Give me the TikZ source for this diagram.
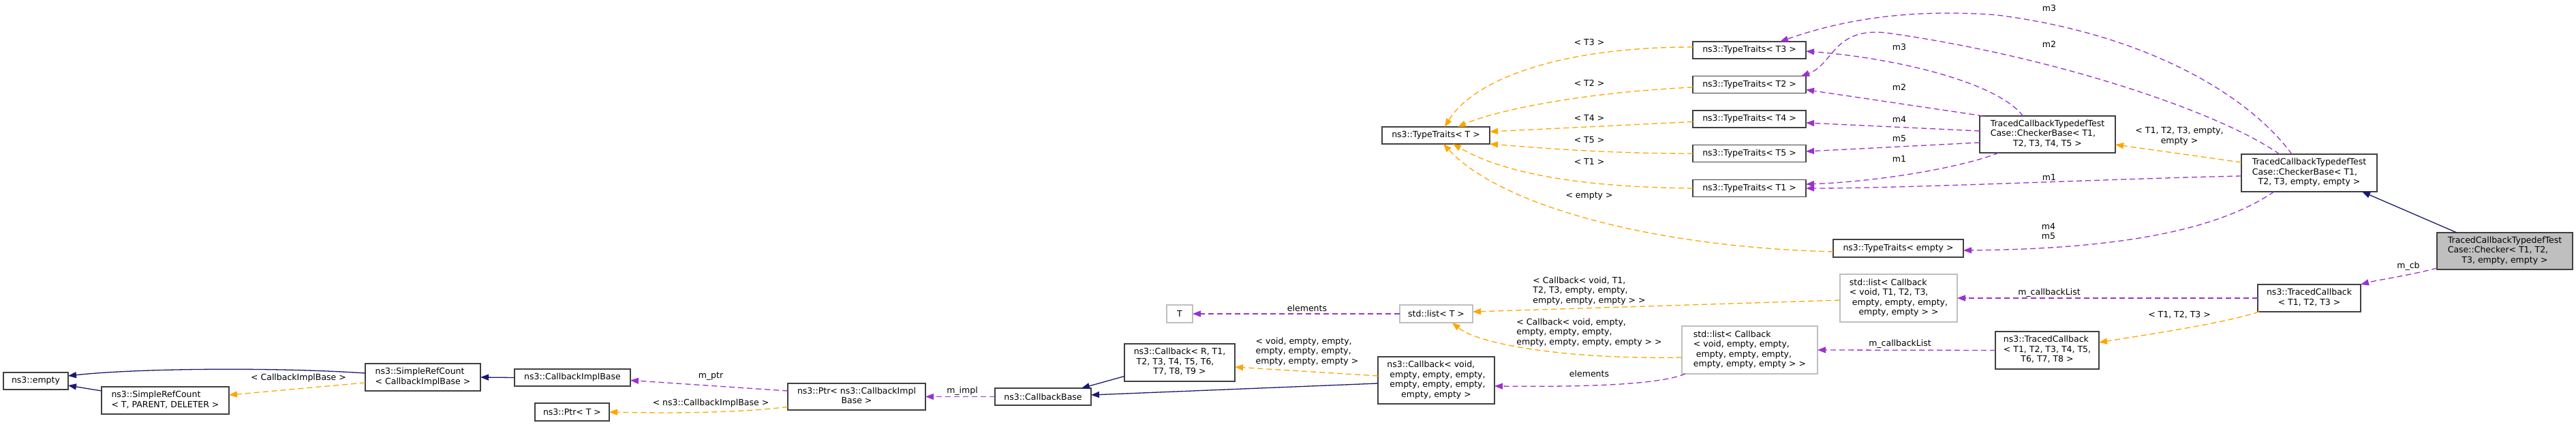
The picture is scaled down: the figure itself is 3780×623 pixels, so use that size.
\documentclass[tikz,border=0pt]{standalone}
\usepackage{fontspec}
\setmainfont{DejaVu Sans}
\usetikzlibrary{arrows.meta}
\definecolor{inhc}{HTML}{191970}
\definecolor{usec}{HTML}{9A32CD}
\definecolor{tplc}{HTML}{FFA500}
\definecolor{boxc}{HTML}{404040}
\definecolor{undoc}{HTML}{BFBFBF}
\newcommand{\mlines}[1]{\begin{tabular}{@{}l@{}}#1\end{tabular}}
\newcommand{\lastc}[1]{\multicolumn{1}{@{}c@{}}{#1}}
\tikzset{
  every node/.style={font=\fontsize{12.5}{14.5}\selectfont, inner sep=0pt, outer sep=0pt},
  cls/.style 2 args={draw=boxc, line width=1.6pt, fill=white, rectangle, minimum width=#1pt, minimum height=#2pt},
  und/.style 2 args={draw=undoc, line width=1.6pt, fill=white, rectangle, minimum width=#1pt, minimum height=#2pt},
  lbl/.style={},
  tipa/.tip={Triangle[length=12pt,width=9pt]},
  inh/.style={draw=inhc, line width=1.3pt, -tipa},
  use/.style={draw=usec, line width=1.3pt, dash pattern=on 8pt off 5pt, -tipa},
  tpl/.style={draw=tplc, line width=1.3pt, dash pattern=on 8pt off 5pt, -tipa},
}
\begin{document}
\begin{tikzpicture}[x=1pt,y=-1pt]
\useasboundingbox (0,0) rectangle (3780,623);
% nodes
\node[cls={95}{25}] (empty) at (52.5,558.5) {ns3::empty};
\node[cls={187}{40}] (srcTPD) at (242.5,587) {\mlines{ns3::SimpleRefCount\\\lastc{< T, PARENT, DELETER >}}};
\node[cls={169}{40}] (srcCIB) at (620.5,553) {\mlines{ns3::SimpleRefCount\\\lastc{< CallbackImplBase >}}};
\node[cls={170}{25}] (cib) at (840,553.5) {ns3::CallbackImplBase};
\node[cls={109}{26}] (ptrT) at (839.5,604) {ns3::Ptr< T >};
\node[cls={202}{39}] (ptrCIB) at (1257,581.5) {\mlines{ns3::Ptr< ns3::CallbackImpl\\\lastc{Base >}}};
\node[cls={141}{25}] (cbBase) at (1530.5,581.5) {ns3::CallbackBase};
\node[cls={162}{55}] (cbR) at (1731,531.5) {\mlines{ns3::Callback< R, T1,\\\ T2, T3, T4, T5, T6,\\\lastc{T7, T8, T9 >}}};
\node[und={38}{26}] (Tn) at (1731,460) {T};
\node[und={107}{26}] (listT) at (2107.5,460) {std::list< T >};
\node[cls={171}{69}] (cbVoid) at (2107.5,557.5) {\mlines{ns3::Callback< void,\\\ empty, empty, empty,\\\ empty, empty, empty,\\\lastc{empty, empty >}}};
\node[cls={158}{25}] (ttT) at (2107,198.5) {ns3::TypeTraits< T >};
\node[cls={166}{25}] (tt3) at (2567,73.5) {ns3::TypeTraits< T3 >};
\node[cls={166}{25}] (tt2) at (2567,124) {ns3::TypeTraits< T2 >};
\node[cls={166}{25}] (tt4) at (2567,174.5) {ns3::TypeTraits< T4 >};
\node[cls={166}{25}] (tt5) at (2567,225) {ns3::TypeTraits< T5 >};
\node[cls={166}{25}] (tt1) at (2567,276) {ns3::TypeTraits< T1 >};
\node[cls={191}{26}] (ttE) at (2785.5,364) {ns3::TypeTraits< empty >};
\node[und={199}{70}] (listV) at (2567.5,513) {\mlines{std::list< Callback\\< void, empty, empty,\\\ empty, empty, empty,\\\lastc{empty, empty, empty > >}}};
\node[und={172}{70}] (listT123) at (2786,437) {\mlines{std::list< Callback\\< void, T1, T2, T3,\\\ empty, empty, empty,\\\lastc{empty, empty > >}}};
\node[cls={199}{54}] (cbT5) at (3004.5,197) {\mlines{TracedCallbackTypedefTest\\Case::CheckerBase< T1,\\\lastc{T2, T3, T4, T5 >}}};
\node[cls={152}{55}] (tcb8) at (3004,513.5) {\mlines{ns3::TracedCallback\\< T1, T2, T3, T4, T5,\\\lastc{T6, T7, T8 >}}};
\node[cls={199}{55}] (cbE) at (3388.5,253.5) {\mlines{TracedCallbackTypedefTest\\Case::CheckerBase< T1,\\\lastc{T2, T3, empty, empty >}}};
\node[cls={151}{40}] (tcb3) at (3388.5,437) {\mlines{ns3::TracedCallback\\\lastc{< T1, T2, T3 >}}};
\node[cls={199}{54}, fill=undoc] (checker) at (3675.5,368) {\mlines{TracedCallbackTypedefTest\\Case::Checker< T1, T2,\\\lastc{T3, empty, empty >}}};
% edges
\draw[inh] ([yshift=6pt]srcCIB.west) .. controls (400,538) and (200,540) .. ([yshift=7.5pt]empty.east);
\draw[inh] ([yshift=14pt]srcTPD.west) -- ([yshift=-6.5pt]empty.east);
\draw[inh] (cib.west) -- (srcCIB.east);
\draw[tpl] ([yshift=-8pt]srcCIB.west) -- ([yshift=8pt]srcTPD.east);
\draw[use] ([yshift=8.5pt]ptrCIB.west) -- ([yshift=-4pt]cib.east);
\draw[tpl] ([yshift=-15pt]ptrCIB.west) .. controls (1080,605) and (1000,606) .. (ptrT.east);
\draw[use] (cbBase.west) -- (ptrCIB.east);
\draw[inh] ([yshift=-20pt]cbR.west) -- ([xshift=-14pt]cbBase.north east);
\draw[inh] ([yshift=-4.5pt]cbVoid.west) -- ([yshift=2.5pt]cbBase.east);
\draw[tpl] ([yshift=6.5pt]cbVoid.west) -- ([yshift=-6.5pt]cbR.east);
\draw[use] (listT.west) -- (Tn.east);
\draw[tpl] ([yshift=-3pt]listT123.west) -- ([yshift=3pt]listT.east);
\draw[tpl] ([yshift=-11pt]listV.west) .. controls (2300,527) and (2170,505) .. ([xshift=23.5pt]listT.south);
\draw[use] ([xshift=5pt]listV.south west) .. controls (2430,566) and (2300,567) .. ([yshift=-8.5pt]cbVoid.east);
\draw[use] (tcb8.west) -- (listV.east);
\draw[use] (tcb3.west) -- (listT123.east);
\draw[tpl] ([xshift=2pt]tcb3.south west) .. controls (3260,475) and (3140,492) .. ([yshift=11.5pt]tcb8.east);
\draw[use] ([yshift=-25pt]checker.west) .. controls (3530,405) and (3490,410) .. (tcb3.north east);
\draw[inh] ([xshift=29pt]checker.north west) -- ([xshift=-22pt]cbE.south east);
\draw[tpl] ([yshift=15.5pt]cbE.west) -- ([yshift=-15pt]cbT5.east);
\draw[use] ([yshift=-4.5pt]cbE.west) .. controls (3100,262) and (2800,276) .. (tt1.east);
\draw[use] ([xshift=28pt]cbT5.south west) .. controls (2880,245) and (2760,266) .. ([yshift=6pt]tt1.east);
\draw[use] ([yshift=-12pt]cbT5.west) -- ([yshift=3pt]tt5.east);
\draw[use] ([yshift=5pt]cbT5.west) -- ([yshift=-5.5pt]tt4.east);
\draw[use] ([xshift=5pt]cbT5.north west) -- ([yshift=-7.5pt]tt2.east);
\draw[use] ([xshift=63.5pt]cbT5.north west) .. controls (2930,120) and (2780,85) .. ([yshift=-1.5pt]tt3.east);
\draw[use] ([xshift=74pt]cbE.north west) .. controls (3300,140) and (3150,50) .. (2930,22) .. controls (2800,12) and (2700,30) .. ([xshift=45pt]tt3.north);
\draw[use] ([xshift=56pt]cbE.north west) .. controls (3250,160) and (3000,80) .. (2767,48) .. controls (2690,40) and (2690,95) .. ([xshift=-7pt]tt2.north east);
\draw[use] ([xshift=48pt]cbE.south west) .. controls (3250,340) and (3100,365) .. ([yshift=-3pt]ttE.east);
\draw[tpl] ([yshift=4.5pt]tt3.west) .. controls (2280,69) and (2160,120) .. ([xshift=13pt]ttT.north);
\draw[tpl] ([yshift=-4pt]tt2.west) .. controls (2330,135) and (2200,160) .. ([xshift=32pt]ttT.north);
\draw[tpl] ([yshift=-4pt]tt4.west) -- ([yshift=5.5pt]ttT.east);
\draw[tpl] (tt5.west) .. controls (2350,225) and (2250,216) .. (ttT.south east);
\draw[tpl] (tt1.west) .. controls (2300,274) and (2200,250) .. ([xshift=25pt]ttT.south);
\draw[tpl] ([yshift=-5pt]ttE.west) .. controls (2420,362) and (2200,300) .. ([xshift=11pt]ttT.south);
% labels
\node[lbl] (L1) at (438,554) {< CallbackImplBase >};
\node[lbl] (L2) at (1043,552) {m\_ptr};
\node[lbl] (L3) at (1043,591) {< ns3::CallbackImplBase >};
\node[lbl] (L4) at (1412,573) {m\_impl};
\node[lbl] (L5) at (1918,452) {elements};
\node[lbl] (L6) at (1918,516) {\mlines{< void, empty, empty,\\empty, empty, empty,\\\lastc{empty, empty, empty >}}};
\node[lbl] (L7) at (2332,427) {\mlines{< Callback< void, T1,\\T2, T3, empty, empty,\\\lastc{empty, empty, empty > >}}};
\node[lbl] (L8) at (2332,488) {\mlines{< Callback< void, empty,\\empty, empty, empty,\\\lastc{empty, empty, empty, empty > >}}};
\node[lbl] (L9) at (2332,548) {elements};
\node[lbl] (L10) at (2788,504) {m\_callbackList};
\node[lbl] (L11) at (3007,429) {m\_callbackList};
\node[lbl] (L12) at (3198,462) {< T1, T2, T3 >};
\node[lbl] (L13) at (3534,390) {m\_cb};
\node[lbl] (L14) at (3198,200) {\mlines{< T1, T2, T3, empty,\\\lastc{empty >}}};
\node[lbl] (L15) at (3006,340.5) {\mlines{m4\\m5}};
\node[lbl] (L16) at (3007,260) {m1};
\node[lbl] (L17) at (3007,65) {m2};
\node[lbl] (L18) at (3007,12) {m3};
\node[lbl] (L19) at (2787,69) {m3};
\node[lbl] (L20) at (2787,128) {m2};
\node[lbl] (L21) at (2787,175) {m4};
\node[lbl] (L22) at (2787,203) {m5};
\node[lbl] (L23) at (2787,233) {m1};
\node[lbl] (L24) at (2332,62) {< T3 >};
\node[lbl] (L25) at (2332,122) {< T2 >};
\node[lbl] (L26) at (2332,173) {< T4 >};
\node[lbl] (L27) at (2332,205) {< T5 >};
\node[lbl] (L28) at (2332,237) {< T1 >};
\node[lbl] (L29) at (2332,287) {< empty >};
\end{tikzpicture}
\end{document}
